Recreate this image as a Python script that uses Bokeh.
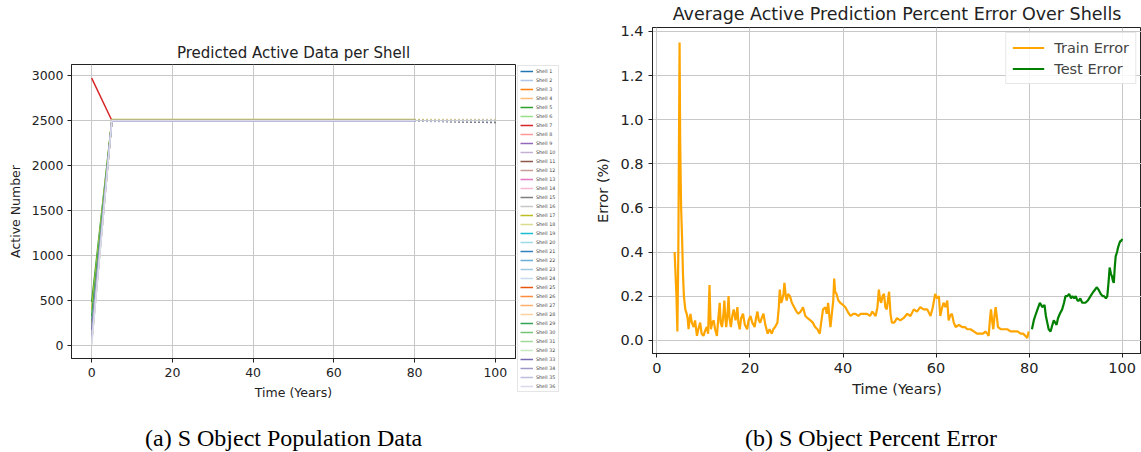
from bokeh.plotting import figure
from bokeh.layouts import row, column
from bokeh.models import (Legend, LegendItem, FixedTicker, PrintfTickFormatter, Spacer, Div)
from bokeh.embed import file_html
from bokeh.resources import INLINE

# ---------------- data ----------------
shell_names = [f"Shell {i}" for i in range(1, 37)]
shell_colors = [
    "#1f77b4", "#aec7e8", "#ff7f0e", "#ffbb78", "#2ca02c", "#98df8a", "#d62728", "#ff9896",
    "#9467bd", "#c5b0d5", "#8c564b", "#c49c94", "#e377c2", "#f7b6d2", "#7f7f7f", "#c7c7c7",
    "#bcbd22", "#dbdb8d", "#17becf", "#9edae5",
    "#3182bd", "#6baed6", "#9ecae1", "#c6dbef", "#e6550d", "#fd8d3c", "#fdae6b", "#fdd0a2",
    "#31a354", "#74c476", "#a1d99b", "#c7e9c0", "#756bb1", "#9e9ac8", "#bcbddc", "#dadaeb",
]
# active number at year 0
shell_start = [280, 120, 200, 60, 480, 350, 2975, 150, 90, 40, 180, 100, 70, 30, 220, 50,
               400, 300, 130, 20, 250, 160, 80, 10, 190, 110, 60, 25, 320, 210, 140, 45,
               170, 95, 55, 5]
# level reached at year 5 and kept to year 80
shell_level = [2500, 2495, 2505, 2498, 2502, 2497, 2503, 2499, 2501, 2496, 2504, 2500, 2498, 2502,
               2500, 2497, 2515, 2510, 2499, 2501, 2500, 2498, 2502, 2500, 2497, 2503, 2499, 2501,
               2500, 2502, 2498, 2500, 2496, 2504, 2500, 2501]
# predicted value at year 100
shell_end = [2490, 2505, 2485, 2510, 2495, 2500, 2480, 2512, 2498, 2503, 2488, 2507, 2493, 2510,
             2486, 2502, 2515, 2508, 2494, 2499, 2482, 2506, 2491, 2509, 2487, 2504, 2496, 2511,
             2484, 2501, 2497, 2508, 2480, 2505, 2492, 2500]
key_years = [0, 5, 80]
pred_years = [80, 100]

train_t = [3.8, 4.0, 4.2, 4.4, 4.6, 4.87, 5.0, 5.2, 5.4, 5.6, 5.8, 6.1, 6.4, 6.6, 6.8, 7.0, 7.2, 7.5,
           7.9, 8.2, 8.6, 8.9, 9.3, 9.6, 10.0, 10.3, 10.7, 11.0, 11.3, 11.5, 11.6, 11.9, 12.2, 12.5,
           12.9, 13.2, 13.5, 13.7, 14.0, 14.3, 14.5, 14.7, 14.9, 15.2, 15.4, 15.6, 15.9, 16.2, 16.5,
           16.9, 17.3, 17.5, 17.8, 18.1, 18.5, 18.9, 19.4, 19.7, 20.1, 20.5, 21.0, 21.3, 21.6, 21.9,
           22.2, 22.5, 22.9, 23.3, 23.8, 24.2, 24.7, 25.0, 25.4, 25.9, 26.2, 26.4, 26.7, 26.9, 27.2,
           27.4, 27.7, 27.9, 28.2, 28.6, 29.0, 29.5, 30.0, 30.4, 30.9, 31.4, 31.9, 32.4, 33.0, 33.5,
           34.0, 34.5, 35.0, 35.3, 35.7, 36.2, 36.5, 36.8, 37.1, 37.3, 37.6, 37.9, 38.1, 38.3, 38.6,
           39.0, 39.4, 40.0, 40.5, 41.0, 41.6, 42.2, 42.7, 43.3, 43.8, 44.5, 45.2, 45.8, 46.3, 47.0,
           47.4, 47.7, 48.0, 48.2, 48.5, 48.8, 49.1, 49.4, 49.7, 49.9, 50.2, 50.5, 51.0, 51.6, 52.3,
           53.0, 53.8, 54.5, 55.2, 55.9, 56.6, 57.3, 58.1, 58.8, 59.3, 59.8, 60.2, 60.6, 60.9, 61.2,
           61.6, 62.0, 62.4, 62.7, 63.0, 63.4, 63.8, 64.2, 64.9, 65.6, 66.2, 66.7, 67.4, 68.1, 68.8,
           69.5, 70.1, 70.6, 71.0, 71.3, 71.6, 71.8, 72.1, 72.3, 72.6, 72.8, 73.1, 73.3, 73.9, 74.6,
           75.3, 76.0, 76.7, 77.5, 78.2, 78.7, 79.2, 79.6, 79.9]
train_e = [0.40, 0.30, 0.20, 0.04, 0.40, 1.35, 0.90, 0.60, 0.47, 0.30, 0.20, 0.14, 0.12, 0.10, 0.05,
           0.09, 0.12, 0.08, 0.06, 0.09, 0.02, 0.05, 0.08, 0.03, 0.02, 0.04, 0.06, 0.03, 0.25, 0.10,
           0.05, 0.08, 0.09, 0.05, 0.02, 0.10, 0.17, 0.08, 0.06, 0.12, 0.18, 0.10, 0.06, 0.13, 0.20,
           0.10, 0.06, 0.11, 0.14, 0.09, 0.15, 0.08, 0.05, 0.10, 0.12, 0.07, 0.05, 0.09, 0.11, 0.08,
           0.06, 0.10, 0.13, 0.09, 0.08, 0.10, 0.12, 0.07, 0.03, 0.05, 0.03, 0.05, 0.06, 0.08, 0.15,
           0.23, 0.17, 0.18, 0.21, 0.26, 0.20, 0.18, 0.21, 0.20, 0.17, 0.15, 0.13, 0.12, 0.13, 0.15,
           0.11, 0.10, 0.09, 0.08, 0.06, 0.05, 0.03, 0.08, 0.14, 0.15, 0.12, 0.17, 0.10, 0.06, 0.12,
           0.18, 0.28, 0.22, 0.21, 0.18, 0.17, 0.16, 0.15, 0.13, 0.11, 0.12, 0.12, 0.11, 0.12, 0.12,
           0.12, 0.11, 0.13, 0.11, 0.15, 0.23, 0.18, 0.17, 0.20, 0.21, 0.15, 0.14, 0.19, 0.22, 0.12,
           0.08, 0.08, 0.10, 0.09, 0.10, 0.12, 0.11, 0.14, 0.13, 0.15, 0.14, 0.14, 0.11, 0.15, 0.21,
           0.19, 0.20, 0.11, 0.14, 0.17, 0.15, 0.18, 0.09, 0.11, 0.12, 0.08, 0.06, 0.07, 0.06, 0.06,
           0.05, 0.05, 0.04, 0.03, 0.03, 0.03, 0.04, 0.03, 0.02, 0.10, 0.14, 0.08, 0.05, 0.12, 0.15,
           0.10, 0.06, 0.05, 0.05, 0.05, 0.04, 0.04, 0.04, 0.03, 0.03, 0.02, 0.01, 0.04]
test_t = [80.6, 81.0, 81.3, 81.8, 82.3, 82.6, 82.8, 83.3, 83.6, 83.9, 84.2, 84.6, 85.0, 85.3, 85.6,
          85.9, 86.2, 86.6, 87.1, 87.5, 87.8, 88.2, 88.6, 89.0, 89.3, 89.7, 90.0, 90.4, 90.7, 91.0,
          91.4, 91.8, 92.1, 92.6, 93.2, 93.8, 94.2, 94.5, 94.9, 95.4, 95.8, 96.1, 96.5, 96.8, 97.1,
          97.3, 97.6, 97.8, 98.0, 98.2, 98.4, 98.6, 98.9, 99.1, 99.4, 99.6, 99.8, 100.0]
test_e = [0.05, 0.09, 0.11, 0.14, 0.17, 0.16, 0.15, 0.16, 0.11, 0.08, 0.05, 0.04, 0.07, 0.09, 0.08,
          0.07, 0.10, 0.12, 0.14, 0.17, 0.20, 0.20, 0.21, 0.19, 0.20, 0.19, 0.20, 0.18, 0.18, 0.19,
          0.17, 0.17, 0.17, 0.18, 0.20, 0.22, 0.23, 0.24, 0.23, 0.21, 0.20, 0.20, 0.19, 0.20, 0.27,
          0.33, 0.30, 0.29, 0.27, 0.26, 0.33, 0.38, 0.40, 0.42, 0.44, 0.45, 0.45, 0.46]

x_ticks = [0, 20, 40, 60, 80, 100]
y_ticks_left = [0, 500, 1000, 1500, 2000, 2500, 3000]
y_ticks_right = [0.0, 0.2, 0.4, 0.6, 0.8, 1.0, 1.2, 1.4]

caption_a = "(a) S Object Population Data"
caption_b = "(b) S Object Percent Error"

FONT = "DejaVu Sans"


def style(p, tick_size, label_size):
    p.outline_line_color = "#222222"
    p.outline_line_width = 1
    p.background_fill_color = "white"
    p.border_fill_color = "white"
    for ax in p.axis:
        ax.axis_line_color = "#222222"
        ax.major_tick_line_color = "#222222"
        ax.major_tick_out = 4
        ax.major_tick_in = 0
        ax.minor_tick_line_color = None
        ax.major_label_text_font = FONT
        ax.major_label_text_font_size = tick_size
        ax.major_label_text_color = "#222222"
        ax.axis_label_text_font = FONT
        ax.axis_label_text_font_size = label_size
        ax.axis_label_text_font_style = "normal"
        ax.axis_label_text_color = "#222222"
        ax.major_label_standoff = 5
        ax.axis_label_standoff = 5
    p.grid.grid_line_color = "#c8c8c8"
    p.grid.grid_line_width = 1
    p.title.text_font = FONT
    p.title.text_font_style = "normal"
    p.title.text_color = "#222222"
    p.title.align = "center"


def caption(text, pad_left, width):
    html = ('<div style="font-family:\'Liberation Serif\',\'Times New Roman\',serif;'
            'font-size:24px;line-height:28px;padding-top:12px;padding-left:%dpx;'
            'white-space:nowrap;color:#000;">%s</div>' % (pad_left, text))
    return Div(text=html, width=width, height=40, margin=0)


# ---------------- left figure ----------------
p1 = figure(width=516, height=375, x_range=(-5, 105), y_range=(-148, 3127),
            output_backend="svg", toolbar_location=None,
            min_border_left=71, min_border_right=1, min_border_top=27, min_border_bottom=54,
            title="Predicted Active Data per Shell")
p1.title.text_font_size = "15px"
p1.title.standoff = 6
style(p1, "12.5px", "12.5px")
p1.xaxis.ticker = FixedTicker(ticks=x_ticks)
p1.yaxis.ticker = FixedTicker(ticks=y_ticks_left)
p1.yaxis.major_label_standoff = 4
p1.xaxis.axis_label = "Time (Years)"
p1.yaxis.axis_label = "Active Number"
p1.yaxis.axis_label_standoff = 6

for col, s0, lv, en in zip(shell_colors, shell_start, shell_level, shell_end):
    p1.line(key_years, [s0, lv, lv], line_color=col, line_width=1.5)
    p1.line(pred_years, [lv, en], line_color=col, line_width=1.5, line_dash="1 3")

# legend strip: a small canvas of its own so that the legend may sit beside the frame;
# its proxy lines carry the same data but lie outside this strip's (empty) view
pl = figure(width=44, height=415, output_backend="svg", toolbar_location=None,
            x_axis_type=None, y_axis_type=None, x_range=(1000, 1001), y_range=(0, 1),
            min_border_left=0, min_border_right=0, min_border_top=27, min_border_bottom=54)
pl.outline_line_color = None
pl.background_fill_color = None
pl.border_fill_color = None
items = []
for name, col, s0, lv in zip(shell_names, shell_colors, shell_start, shell_level):
    r = pl.line(key_years, [s0, lv, lv], line_color=col, line_width=1.5)
    items.append(LegendItem(label=name, renderers=[r]))
leg = Legend(items=items, location="top_left", label_text_font=FONT, label_text_font_size="4.8px",
             label_text_color="#444444",
             label_height=6, glyph_height=6, glyph_width=13, label_standoff=3, spacing=3,
             padding=2, margin=1, border_line_color="#cccccc", background_fill_alpha=1)
pl.add_layout(leg, "center")

# ---------------- right figure ----------------
p2 = figure(width=581, height=407, x_range=(-0.95, 104.15), y_range=(-0.06, 1.418),
            output_backend="svg", toolbar_location=None,
            min_border_left=92, min_border_right=0, min_border_top=27, min_border_bottom=54,
            title="Average Active Prediction Percent Error Over Shells")
p2.title.text_font_size = "17.5px"
p2.title.standoff = 4
p2.title.vertical_align = "top"
style(p2, "14.5px", "14.5px")
p2.xaxis.ticker = FixedTicker(ticks=x_ticks)
p2.yaxis.ticker = FixedTicker(ticks=y_ticks_right)
p2.yaxis.formatter = PrintfTickFormatter(format="%.1f")
p2.xaxis.axis_label = "Time (Years)"
p2.yaxis.axis_label = "Error (%)"
p2.yaxis.axis_label_standoff = 6

r_tr = p2.line(train_t, train_e, line_color="orange", line_width=2.2)
r_te = p2.line(test_t, test_e, line_color="green", line_width=2.2)
leg2 = Legend(items=[LegendItem(label="Train Error", renderers=[r_tr]),
                     LegendItem(label="Test Error", renderers=[r_te])],
              location="top_right", label_text_font=FONT, label_text_font_size="14.5px",
              glyph_width=32, glyph_height=17, label_height=17, label_standoff=10, spacing=4,
              padding=6, margin=5, border_line_color="#d0d0d0", background_fill_alpha=0.85)
p2.add_layout(leg2, "center")

left_col = column(Spacer(width=516, height=37), p1, caption(caption_a, 145, 516), spacing=0)
leg_col = column(Spacer(width=44, height=37), pl, spacing=0)
right_col = column(p2, Spacer(width=581, height=5), caption(caption_b, 185, 581), spacing=0)
layout = row(left_col, leg_col, right_col, spacing=0)
open("out.html", "w").write(file_html(layout, INLINE))
